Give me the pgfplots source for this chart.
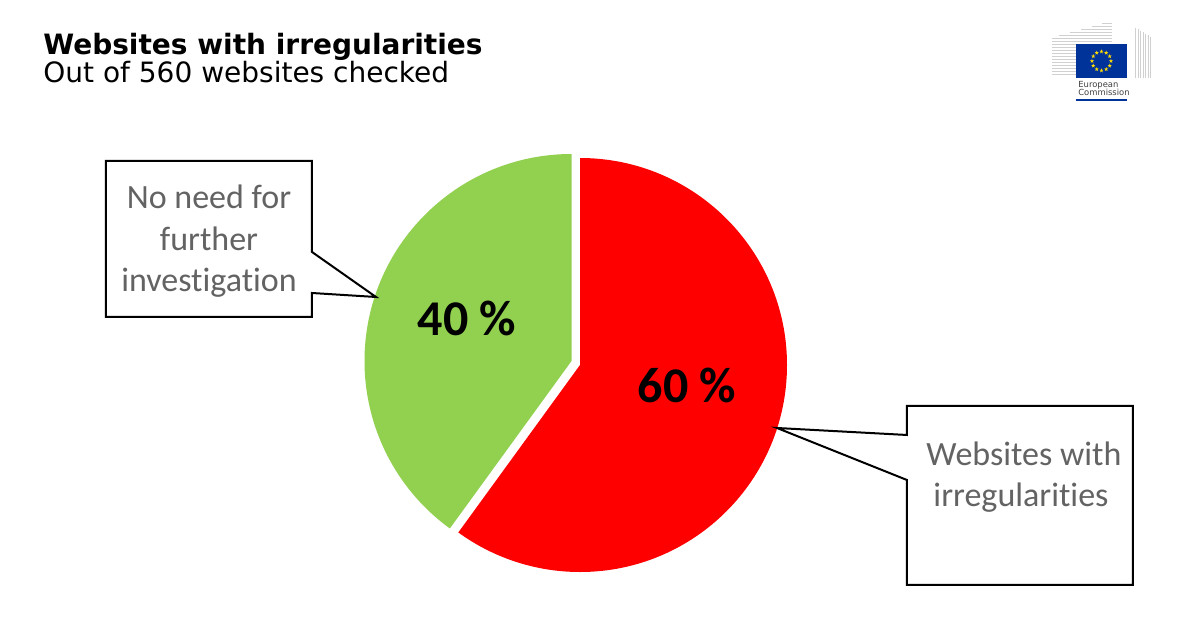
\documentclass[border=0pt]{standalone}
\usepackage{pgfplots}
\pgfplotsset{compat=1.18}
\usepackage{pgfplotstable}
\usepackage{fontspec}
\setmainfont{DejaVu Sans}
\newfontfamily\carlito[Ligatures={NoCommon,NoContextual}]{Carlito}
\usetikzlibrary{shapes.geometric}

\definecolor{pieRed}{HTML}{FF0000}
\definecolor{pieGreen}{HTML}{92D050}
\definecolor{calloutGray}{HTML}{636363}
\definecolor{euBlue}{HTML}{003399}
\definecolor{euYellow}{HTML}{FFDD00}
\definecolor{bldGray}{HTML}{D0D0D0}

% share of the 560 websites checked
\pgfplotstableread{
label value
irregular 60
nofurther 40
}\piedata
\pgfplotstablegetelem{0}{value}\of\piedata \let\vRed\pgfplotsretval
\pgfplotstablegetelem{1}{value}\of\piedata \let\vGreen\pgfplotsretval

\begin{document}
\begin{tikzpicture}
\pgfmathsetmacro\redEnd{90-3.6*\vRed}
\pgfmathsetmacro\greenEnd{90+3.6*\vGreen}
\begin{axis}[width=600bp, height=317.5bp, scale only axis, hide axis,
  xmin=0, xmax=1200, ymin=0, ymax=635, y dir=reverse, clip=false]
  \fill[white] (axis cs:0,0) rectangle (axis cs:1200,635);
  % slices, the green one pulled out a little
  \fill[pieRed] (axis cs:580,365) -- ++(90:103.5bp)
    arc[start angle=90, end angle=\redEnd, radius=103.5bp] -- cycle;
  \fill[pieGreen] (axis cs:571.5,361) -- ++(90:103.5bp)
    arc[start angle=90, end angle=\greenEnd, radius=103.5bp] -- cycle;
  \node[anchor=base, font=\carlito\bfseries\fontsize{25bp}{30bp}\selectfont]
    at (axis cs:467,335) {\vGreen\ \%};
  \node[anchor=base, font=\carlito\bfseries\fontsize{25bp}{30bp}\selectfont]
    at (axis cs:687,402) {\vRed\ \%};
\end{axis}

\begin{scope}[x=0.5bp, y=-0.5bp, yshift=317.5bp]
  % titles
  \node[anchor=base west, inner sep=0pt, font=\bfseries\fontsize{14bp}{16bp}\selectfont]
    at (43,55) {Websites with irregularities};
  \node[anchor=base west, inner sep=0pt, font=\fontsize{14bp}{16bp}\selectfont]
    at (43,83) {Out of 560 websites checked};

  % callouts
  \draw[line width=1bp, fill=white] (106,161) -- (312,161) -- (312,252) -- (376,297)
    -- (312,293) -- (312,317) -- (106,317) -- cycle;
  \draw[line width=1bp, fill=white] (907,406) -- (1133,406) -- (1133,585) -- (907,585)
    -- (907,480) -- (777,428) -- (907,435) -- cycle;
  \begin{scope}[every node/.style={anchor=base, text=calloutGray,
      font=\carlito\fontsize{17bp}{20bp}\selectfont}]
    \node at (209,209) {No need for};
    \node at (209,250.5) {further};
    \node at (209,292) {investigation};
    \node at (1024,466) {Websites with};
    \node at (1021,507) {irregularities};
  \end{scope}

  % logo
  \foreach \y in {24,27,...,77} {
    \pgfmathsetmacro\xs{1052+max(0,38-\y)*3.6}
    \draw[bldGray, line width=0.5bp] (\xs,\y) -- (1112,\y);
  }
  \foreach \x in {1136,1138.5,...,1151} {
    \pgfmathsetmacro\ys{28+(\x-1136)*0.6}
    \draw[bldGray, line width=0.5bp] (\x,\ys) -- (\x,78);
  }
  \fill[euBlue] (1076,44) rectangle (1127,78);
  \foreach \a in {0,30,...,330} {
    \path (1101.5,61) ++(\a:9.5) node[star, star points=5, star point ratio=2.4,
      fill=euYellow, inner sep=0pt, minimum size=2.2bp] {};
  }
  \fill[white] (1074,78) rectangle (1130,98);
  \node[anchor=base west, inner sep=0pt, text=black!75,
    font=\fontsize{4.2bp}{5bp}\selectfont] at (1078,88) {European};
  \node[anchor=base west, inner sep=0pt, text=black!75,
    font=\fontsize{4.2bp}{5bp}\selectfont] at (1078,96) {Commission};
  \fill[euBlue] (1076,99) rectangle (1127,101.5);
\end{scope}
\end{tikzpicture}
\end{document}
